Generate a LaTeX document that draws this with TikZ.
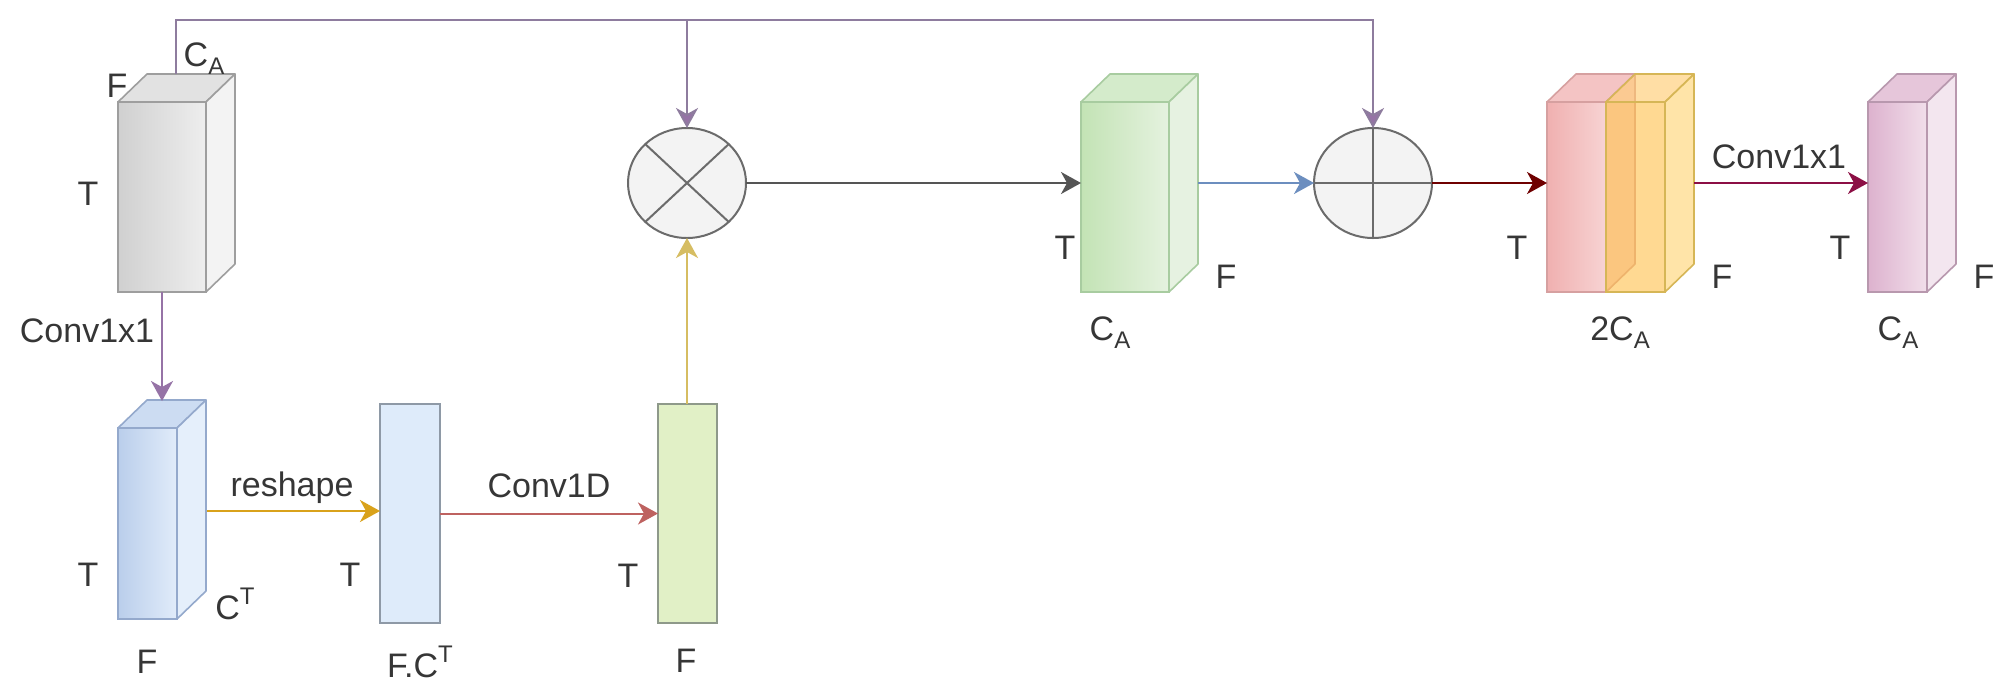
\documentclass[tikz,border=0pt]{standalone}
\usepackage{fontspec}
\setmainfont{Liberation Sans}
\usetikzlibrary{shapes.geometric,arrows.meta}

\definecolor{txt}{HTML}{363636}
\definecolor{grayS}{HTML}{9E9E9E}\definecolor{grayL}{HTML}{D0D0D0}\definecolor{grayR}{HTML}{EEEEEE}
\definecolor{grayTop}{HTML}{E2E2E2}\definecolor{graySide}{HTML}{F3F3F3}
\definecolor{blueS}{HTML}{94A9CC}\definecolor{blueL}{HTML}{BACEEB}\definecolor{blueR}{HTML}{E1ECFA}
\definecolor{blueTop}{HTML}{CCDCF2}\definecolor{blueSide}{HTML}{E5EFFB}
\definecolor{fcS}{HTML}{8E99A6}\definecolor{fcF}{HTML}{DEEBFA}
\definecolor{gnS}{HTML}{8E998A}\definecolor{gnF}{HTML}{E1F0C6}
\definecolor{grS}{HTML}{A8CCA0}\definecolor{grL}{HTML}{C3E3B5}\definecolor{grR}{HTML}{E5F2DF}
\definecolor{grTop}{HTML}{D4EBCB}\definecolor{grSide}{HTML}{E6F2E1}
\definecolor{pkS}{HTML}{D6A0A0}\definecolor{pkL}{HTML}{F0B0B0}\definecolor{pkR}{HTML}{F7D3D3}
\definecolor{pkTop}{HTML}{F4C4C4}\definecolor{pkSide}{HTML}{F5CFCF}
\definecolor{orS}{HTML}{D6B656}\definecolor{orF}{HTML}{FFC04A}\definecolor{orTop}{HTML}{FFC86A}\definecolor{orSide}{HTML}{FFD36E}
\definecolor{lpS}{HTML}{B898AE}\definecolor{lpL}{HTML}{DDB2CE}\definecolor{lpR}{HTML}{F1DEEA}
\definecolor{lpTop}{HTML}{E6C6DA}\definecolor{lpSide}{HTML}{F3E6EF}
\definecolor{mauve}{HTML}{9673A6}\definecolor{mauveL}{HTML}{8E7C9E}
\definecolor{gold}{HTML}{D9A21B}\definecolor{redC}{HTML}{BE6260}
\definecolor{yel}{HTML}{D6BD62}\definecolor{dk}{HTML}{555555}
\definecolor{blueA}{HTML}{6C8EBF}\definecolor{dred}{HTML}{6F0000}\definecolor{maroon}{HTML}{8C0F45}
\definecolor{opfill}{HTML}{F3F3F3}\definecolor{opstroke}{HTML}{6B6B6B}

\newcommand\mysub[1]{\raisebox{-0.24em}{\fontsize{24}{24}\selectfont #1}}
\newcommand\mysup[1]{\raisebox{0.42em}{\fontsize{24}{24}\selectfont #1}}

% #1 node, #2 stroke, #3 top fill, #4 side fill, #5 extra options
\newcommand\cubefaces[5]{%
  \filldraw[draw=#2, fill=#3, line width=1.6pt, line join=round, #5]
    (#1.north west) -- ++(29,-28) -- ([shift={(29,-28)}]#1.north east) -- (#1.north east) -- cycle;
  \filldraw[draw=#2, fill=#4, line width=1.6pt, line join=round, #5]
    (#1.north east) -- ([shift={(29,-28)}]#1.north east) -- ([shift={(29,-28)}]#1.south east) -- (#1.south east) -- cycle;
}

\tikzset{
  front/.style={rectangle, inner sep=0pt, outer sep=0pt, line width=1.6pt},
  lbl/.style={font=\fontsize{34}{40}\selectfont, text=txt, inner sep=0pt, outer sep=0pt},
  conn/.style={line width=2pt, -{Stealth[length=20pt,width=22pt,inset=6pt]}},
  opnode/.style={ellipse, draw=opstroke, fill=opfill, line width=2pt, minimum width=118pt,
    minimum height=110pt, inner sep=0pt, outer sep=0pt},
  opline/.style={draw=opstroke, line width=2pt},
}

\begin{document}
\begin{tikzpicture}[x=1pt,y=-1pt]
\useasboundingbox (0,0) rectangle (2007,697);
\fill[white] (0,0) rectangle (2007,697);

% gray input cube
\node[front, draw=grayS, left color=grayL, right color=grayR, minimum width=88pt, minimum height=190pt] (gf) at (162,197) {};
\cubefaces{gf}{grayS}{grayTop}{graySide}{}

% blue cube
\node[front, draw=blueS, left color=blueL, right color=blueR, minimum width=59pt, minimum height=191pt] (bf) at (147.5,523.5) {};
\cubefaces{bf}{blueS}{blueTop}{blueSide}{}

% reshaped matrix
\node[front, draw=fcS, fill=fcF, minimum width=60pt, minimum height=219pt] (fc) at (410,513.5) {};
% conv1d output
\node[front, draw=gnS, fill=gnF, minimum width=59pt, minimum height=219pt] (gn) at (687.5,513.5) {};

% operators
\node[opnode] (ot) at (687,183) {};
\draw[opline] (ot.north east) -- (ot.south west) (ot.north west) -- (ot.south east);
\node[opnode] (op) at (1373,183) {};
\draw[opline] (op.north) -- (op.south) (op.west) -- (op.east);

% green cube
\node[front, draw=grS, left color=grL, right color=grR, minimum width=88pt, minimum height=190pt] (cf) at (1125,197) {};
\cubefaces{cf}{grS}{grTop}{grSide}{}

% pink + orange cubes
\node[front, draw=pkS, left color=pkL, right color=pkR, minimum width=59pt, minimum height=190pt] (pf) at (1576.5,197) {};
\cubefaces{pf}{pkS}{pkTop}{pkSide}{}
\node[front, draw=orS, fill=orF, fill opacity=0.6, minimum width=59pt, minimum height=190pt] (of) at (1635.5,197) {};
\cubefaces{of}{orS}{orTop}{orSide}{fill opacity=0.6}

% light pink cube
\node[front, draw=lpS, left color=lpL, right color=lpR, minimum width=59pt, minimum height=190pt] (lf) at (1897.5,197) {};
\cubefaces{lf}{lpS}{lpTop}{lpSide}{}

% helper coordinates
\coordinate (gtop) at (176,74);
\coordinate (ytop) at (0,20);
\coordinate (bt) at (162,401);
\coordinate (bs) at (207,511);
\coordinate (cs) at ([shift={(29,0)}]cf.east);
\coordinate (os) at ([shift={(29,0)}]of.east);

% connectors
\draw[conn, draw=mauveL, -{Stealth[length=20pt,width=22pt,inset=6pt,fill=mauve]}] (gtop) |- (ytop -| op.north) -- (op.north);
\draw[conn, draw=mauveL, -{Stealth[length=20pt,width=22pt,inset=6pt,fill=mauve]}] (ytop -| ot.north) -- (ot.north);
\draw[conn, draw=mauve] (gf.south) -- (bt);
\draw[conn, draw=gold] (bs) -- (bs -| fc.west);
\draw[conn, draw=redC] (fc.east) -- (gn.west);
\draw[conn, draw=yel] (gn.north -| ot.south) -- (ot.south);
\draw[conn, draw=dk] (ot.east) -- (ot.east -| cf.west);
\draw[conn, draw=blueA] (cs |- op.west) -- (op.west);
\draw[conn, draw=dred] (op.east) -- (op.east -| pf.west);
\draw[conn, draw=maroon] (os |- op.east) -- (op.east -| lf.west);

% labels
\node[lbl] (gF) at (117,86) {F};
\node[lbl] (gC) at (204,59) {C\mysub{A}};
\node[lbl] (gT) at (88,194) {T};
\node[lbl] (cv1) at (87,331) {Conv1x1};
\node[lbl] (bT) at (88,575) {T};
\node[lbl] (bC) at (235,604) {C\mysup{T}};
\node[lbl] (bF) at (147,662) {F};
\node[lbl] (rs) at (292,488) {reshape};
\node[lbl] (fT) at (350,575) {T};
\node[lbl] (fFC) at (420,662) {F.C\mysup{T}};
\node[lbl] (cd) at (549,486) {Conv1D};
\node[lbl] (nT) at (628,576) {T};
\node[lbl] (nF) at (686,661) {F};
\node[lbl] (cT) at (1065,248) {T};
\node[lbl] (cF) at (1226,277) {F};
\node[lbl] (cC) at (1110,333) {C\mysub{A}};
\node[lbl] (pT) at (1517,248) {T};
\node[lbl] (pF) at (1722,277) {F};
\node[lbl] (pC) at (1620,333) {2C\mysub{A}};
\node[lbl] (cv2) at (1779,157) {Conv1x1};
\node[lbl] (lT) at (1840,248) {T};
\node[lbl] (lF) at (1984,277) {F};
\node[lbl] (lC) at (1898,333) {C\mysub{A}};
\end{tikzpicture}
\end{document}
